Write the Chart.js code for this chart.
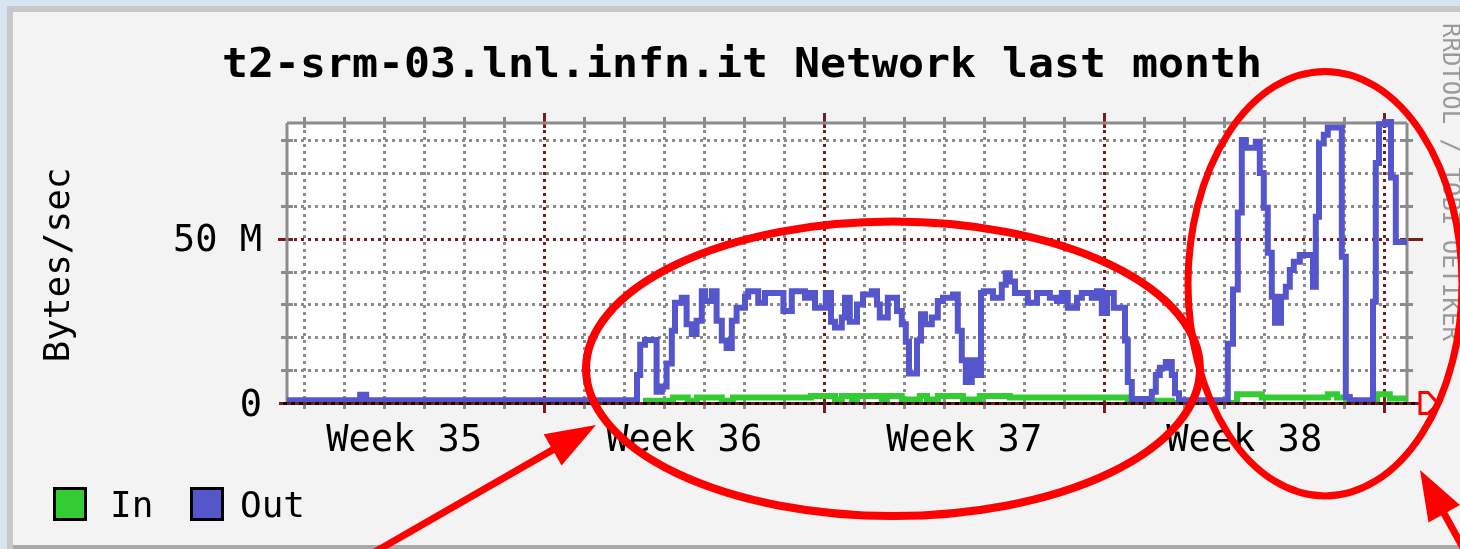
<!DOCTYPE html>
<html lang="en">
<head>
  <meta charset="UTF-8">
  <title>t2-srm-03.lnl.infn.it Network last month</title>
  <script src="https://cdn.jsdelivr.net/npm/chart.js"></script>
  <style>
    html, body { margin: 0; padding: 0; background: #d9e4f2; }
    #wrap { width: 1460px; height: 549px; }
  </style>
</head>
<body>
  <div id="wrap"><canvas id="netChart" width="1460" height="549"></canvas></div>
  <script>
    const chartTitle = "t2-srm-03.lnl.infn.it Network last month";
    const yAxisLabel = "Bytes/sec";
    const watermark = "RRDTOOL / TOBI OETIKER";

    // x axis is in days from the left edge of the graph, y in MBytes/sec
    const weekLabels = ["Week 35", "Week 36", "Week 37", "Week 38"];
    const weekCenters = [2.93, 9.93, 16.93, 23.93];
    const weekLines = [6.42, 13.42, 20.42, 27.42];
    const yTickValues = [0, 50];

    const outDays = [0, 1.83, 1.98, 8.75, 8.83, 8.95, 9.24, 9.37, 9.49, 9.62, 9.70, 9.87, 9.99, 10.12, 10.24, 10.37,
      10.45, 10.62, 10.74, 10.87, 10.99, 11.12, 11.24, 11.45, 11.53, 11.78, 11.95, 12.41, 12.62, 12.95, 13.07, 13.2,
      13.47, 13.6, 13.7, 13.87, 13.95, 14.07, 14.25, 14.4, 14.62, 14.75, 14.82, 15.02, 15.25, 15.37, 15.47, 15.55,
      15.75, 15.85, 15.95, 16.12, 16.27, 16.4, 16.65, 16.77, 16.87, 16.97, 17.12, 17.27, 17.35, 17.42, 17.65, 17.87,
      17.97, 18.07, 18.2, 18.52, 18.75, 19.07, 19.25, 19.37, 19.52, 19.75, 19.87, 20.12, 20.25, 20.37, 20.5, 20.67,
      20.95, 21.02, 21.12, 21.62, 21.72, 21.82, 21.97, 22.12, 22.2, 22.3, 23.52, 23.65, 23.77, 23.87, 23.97, 24.22,
      24.32, 24.42, 24.52, 24.62, 24.7, 24.85, 24.97, 25.07, 25.17, 25.32, 25.65, 25.72, 25.8, 25.92, 26.02, 26.37,
      26.47, 26.57, 27.15, 27.22, 27.3, 27.45, 27.6, 27.72, 28];
    const outValues = [0.8, 2.5, 0.8, 8.5, 17.7, 19.2, 3.4, 5, 12, 22, 30.5, 32, 24, 21, 25, 34,
      31, 34, 25, 19, 16.7, 25, 29, 32.3, 34, 30.5, 33.5, 28, 34, 32, 33.5, 29,
      33.5, 24.7, 23, 26, 32, 24.7, 30, 33, 34, 30, 26, 32, 28, 24, 18.6, 9,
      19, 27, 24, 26, 31, 32, 33, 22, 13, 6.4, 13, 8.5, 33.5, 34, 32, 36,
      39.5, 37, 33.5, 30.5, 33.5, 32, 31, 33.5, 29, 32, 33.5, 32, 34, 27.4, 33.5, 29,
      19, 6.4, 1.2, 3.4, 8.5, 10.7, 12.5, 8.5, 3, 0.8, 18, 34.5, 58, 80, 77.7, 79.5,
      70, 59.4, 45.7, 32.3, 24.4, 32.3, 35.4, 40.5, 43, 45, 35.4, 56.7, 79, 81.6, 83.8, 44.5,
      1.8, 0.8, 30.8, 73, 84.8, 85.5, 68.6, 49, 49];

    const inDays = [8.9, 9.65, 10.02, 10.25, 10.87, 11.15, 13.1, 13.7, 13.87, 14.12, 14.25, 14.87, 15.0, 15.37,
      15.82, 16.0, 16.27, 16.9, 17.32, 18.07, 21.02, 21.77, 22.12, 23.75, 24.37, 26.02, 26.25, 26.5, 27.25, 27.57, 28];
    const inValues = [0.7, 1.7, 0.7, 1.7, 0.7, 1.7, 2.1, 1.1, 2.1, 1.1, 2.1, 1.1, 2.1, 1.1,
      2.1, 1.1, 2.1, 1.1, 2.1, 1.7, 0, 0.7, 0, 2.7, 1.7, 2.7, 1.7, 0, 2.7, 1.4, 1.4];

    // red hand-drawn highlights on top of the graph (same units as the axes)
    const ringCentres = [[15.15, 10.4], [25.95, 36.3]];
    const ringRadii = [[7.675, 44.8], [3.425, 64.6]];
    const arrowTails = [[1.825, -47.9], [29.575, -47.9]];
    const arrowTips = [[7.725, -6.7], [28.325, -20.4]];

    const FONT = '"DejaVu Sans Mono", monospace';
    const GRAY = '#8c8c8c';
    const MAROON = '#7d1b1b';
    const OUT_COLOR = '#5555cc';
    const IN_COLOR = '#33cc33';

    const rrdPlugin = {
      id: 'rrd',
      beforeDraw(chart) {
        const ctx = chart.ctx, a = chart.chartArea;
        ctx.save();
        ctx.fillStyle = '#d9e4f2';
        ctx.fillRect(0, 0, chart.width, chart.height);
        ctx.fillStyle = '#c8c8c8';
        ctx.fillRect(7, 6, chart.width - 7, chart.height - 6);
        ctx.fillStyle = '#f3f3f3';
        ctx.fillRect(13, 12, chart.width - 13, chart.height - 16);
        ctx.fillStyle = '#a8a8a8';
        ctx.fillRect(13, chart.height - 4, chart.width - 13, 4);
        ctx.fillStyle = '#ffffff';
        ctx.fillRect(a.left, a.top, a.right - a.left, a.bottom - a.top);
        ctx.restore();
      },
      beforeDatasetsDraw(chart) {
        const ctx = chart.ctx, a = chart.chartArea;
        const xs = chart.scales.x, ys = chart.scales.y;
        ctx.save();
        ctx.lineWidth = 3;

        function seg(x1, y1, x2, y2, color, dash) {
          ctx.strokeStyle = color;
          ctx.setLineDash(dash || []);
          ctx.beginPath();
          ctx.moveTo(x1, y1);
          ctx.lineTo(x2, y2);
          ctx.stroke();
        }

        // horizontal grid every 10 M, major at 50 M
        for (let v = 10; v < ys.max; v += 10) {
          const py = Math.round(ys.getPixelForValue(v)) + 0.5;
          const major = yTickValues.includes(v);
          const c = major ? MAROON : GRAY;
          seg(a.left, py, a.right, py, c, [3, 4]);
          const s = major ? 9 : 6;
          seg(a.left - s, py, a.left + 6, py, c);
          seg(a.right - 6, py, a.right + (major ? 16 : 6), py, c);
        }

        // vertical grid every day, major at each week
        for (let k = 0; k < 28; k++) {
          const d = 0.42 + k;
          const px = Math.round(xs.getPixelForValue(d)) + 0.5;
          const major = weekLines.some(w => Math.abs(w - d) < 0.01);
          const c = major ? MAROON : GRAY;
          seg(px, a.top, px, a.bottom, c, [3, 4]);
          const s = major ? 10 : 6;
          seg(px, a.top - s, px, a.top + 5, c);
          seg(px, a.bottom - 5, px, a.bottom + s, c);
        }

        // frame
        seg(a.left, a.bottom, a.left, a.top, GRAY);
        seg(a.left, a.top, a.right, a.top, GRAY);
        seg(a.right, a.top, a.right, a.bottom, GRAY);
        ctx.restore();
      },
      afterDatasetsDraw(chart) {
        const ctx = chart.ctx, a = chart.chartArea;
        ctx.save();
        const y0 = Math.round(a.bottom) + 0.5;
        ctx.lineWidth = 3;
        ctx.strokeStyle = '#000000';
        ctx.beginPath();
        ctx.moveTo(a.left - 8, y0);
        ctx.lineTo(a.right + 12, y0);
        ctx.stroke();
        ctx.strokeStyle = MAROON;
        ctx.setLineDash([4, 4]);
        ctx.beginPath();
        ctx.moveTo(a.left - 8, y0);
        ctx.lineTo(a.right + 12, y0);
        ctx.stroke();
        ctx.setLineDash([]);
        // axis arrow
        ctx.strokeStyle = '#ff0000';
        ctx.beginPath();
        ctx.moveTo(a.right + 13, y0 - 11);
        ctx.lineTo(a.right + 21, y0 - 11);
        ctx.lineTo(a.right + 31, y0);
        ctx.lineTo(a.right + 21, y0 + 10);
        ctx.lineTo(a.right + 13, y0 + 10);
        ctx.closePath();
        ctx.stroke();
        ctx.restore();
      },
      afterDraw(chart) {
        const ctx = chart.ctx;
        const xs = chart.scales.x, ys = chart.scales.y;
        ctx.save();

        // title, squeezed to the width of the original
        ctx.fillStyle = '#000000';
        ctx.font = 'bold 41px ' + FONT;
        const tw = ctx.measureText(chartTitle).width;
        ctx.save();
        ctx.translate(742, 77);
        ctx.scale(1040 / tw, 1);
        ctx.textAlign = 'center';
        ctx.textBaseline = 'alphabetic';
        ctx.fillText(chartTitle, 0, 0);
        ctx.restore();

        // y axis title
        ctx.save();
        ctx.font = '36px ' + FONT;
        ctx.translate(69, 265);
        ctx.rotate(-Math.PI / 2);
        ctx.textAlign = 'center';
        ctx.fillText(yAxisLabel, 0, 0);
        ctx.restore();

        // legend
        ctx.font = '36px ' + FONT;
        ctx.textAlign = 'left';
        const legend = [['In', IN_COLOR, 53, 110], ['Out', OUT_COLOR, 190, 240]];
        legend.forEach(([name, col, bx, tx]) => {
          ctx.fillStyle = '#000000';
          ctx.fillRect(bx, 487, 34, 34);
          ctx.fillStyle = col;
          ctx.fillRect(bx + 3, 490, 28, 28);
          ctx.fillStyle = '#000000';
          ctx.fillText(name, tx, 517);
        });

        // watermark on the right edge
        ctx.save();
        ctx.fillStyle = '#9a9a9a';
        ctx.font = '24px ' + FONT;
        ctx.translate(1443, 23);
        ctx.rotate(Math.PI / 2);
        ctx.textAlign = 'left';
        ctx.fillText(watermark, 0, 0);
        ctx.restore();

        // red highlights
        ctx.strokeStyle = '#ff0000';
        ctx.fillStyle = '#ff0000';
        ringCentres.forEach(([cx, cy], i) => {
          const px = xs.getPixelForValue(cx), py = ys.getPixelForValue(cy);
          const rx = xs.getPixelForValue(cx + ringRadii[i][0]) - px;
          const ry = py - ys.getPixelForValue(cy + ringRadii[i][1]);
          ctx.lineWidth = i === 0 ? 8 : 7;
          ctx.beginPath();
          ctx.ellipse(px, py, rx, ry, 0, 0, Math.PI * 2);
          ctx.stroke();
        });
        arrowTails.forEach(([tx0, ty0], i) => {
          const x1 = xs.getPixelForValue(tx0), y1 = ys.getPixelForValue(ty0);
          const x2 = xs.getPixelForValue(arrowTips[i][0]), y2 = ys.getPixelForValue(arrowTips[i][1]);
          const len = Math.hypot(x2 - x1, y2 - y1);
          const ux = (x2 - x1) / len, uy = (y2 - y1) / len;
          const head = 50, half = 18;
          const bx = x2 - ux * head, by = y2 - uy * head;
          ctx.lineWidth = 7;
          ctx.beginPath();
          ctx.moveTo(x1, y1);
          ctx.lineTo(bx + ux * 4, by + uy * 4);
          ctx.stroke();
          ctx.beginPath();
          ctx.moveTo(x2, y2);
          ctx.lineTo(bx - uy * half, by + ux * half);
          ctx.lineTo(bx + uy * half, by - ux * half);
          ctx.closePath();
          ctx.fill();
        });
        ctx.restore();
      }
    };

    // 'before' in Chart.js holds each value until the next point
    new Chart(document.getElementById('netChart'), {
      type: 'line',
      data: {
        datasets: [
          {
            label: 'Out',
            data: outDays.map((d, i) => ({ x: d, y: outValues[i] })),
            borderColor: OUT_COLOR,
            backgroundColor: OUT_COLOR,
            borderWidth: 6,
            stepped: 'before',
            pointRadius: 0,
            order: 0,
            clip: { left: 0, top: 5, right: 0, bottom: 0 }
          },
          {
            label: 'In',
            data: inDays.map((d, i) => ({ x: d, y: inValues[i] })),
            borderColor: IN_COLOR,
            backgroundColor: IN_COLOR,
            borderWidth: 6,
            stepped: 'before',
            pointRadius: 0,
            order: 1,
            clip: { left: 0, top: 5, right: 0, bottom: 0 }
          }
        ]
      },
      options: {
        responsive: false,
        animation: false,
        events: [],
        layout: { padding: { top: 123, right: 53, bottom: 0, left: 0 } },
        plugins: {
          legend: { display: false },
          tooltip: { enabled: false },
          title: { display: false }
        },
        scales: {
          x: {
            type: 'linear',
            min: 0,
            max: 28,
            grid: { display: false, drawTicks: false },
            border: { display: false },
            afterBuildTicks: s => { s.ticks = weekCenters.map(v => ({ value: v })); },
            afterFit: s => { s.height = 146; },
            ticks: {
              autoSkip: false,
              maxRotation: 0,
              padding: 16,
              color: '#000000',
              font: { family: FONT, size: 37 },
              callback: (v, i) => weekLabels[i]
            }
          },
          y: {
            min: 0,
            max: 85.2,
            grid: { display: false, drawTicks: false },
            border: { display: false },
            afterBuildTicks: s => { s.ticks = yTickValues.map(v => ({ value: v })); },
            afterFit: s => { s.width = 287; },
            ticks: {
              padding: 25,
              labelOffset: 3,
              color: '#000000',
              font: { family: FONT, size: 37 },
              callback: v => (v === 0 ? '0' : v + ' M')
            }
          }
        }
      },
      plugins: [rrdPlugin]
    });
  </script>
</body>
</html>
